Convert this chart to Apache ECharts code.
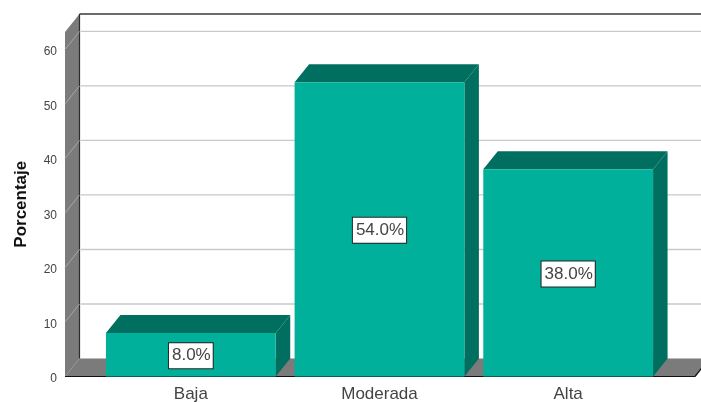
<!DOCTYPE html>
<html><head><meta charset="utf-8">
<style>html,body{margin:0;padding:0;background:#fff}#c{width:701px;height:402px}</style>
<script src="https://cdn.jsdelivr.net/npm/echarts@6/dist/echarts.min.js"></script>
</head><body><div id="c"></div>
<script>
const categories = ['Baja', 'Moderada', 'Alta'];
const values = [8.0, 54.0, 38.0];
const yTicks = [10, 20, 30, 40, 50, 60];
const yMax = 63.2;
const axisTitle = 'Porcentaje';

const DX = 14.5, DY = 18;
const LEFT_PAD = 31.5, RIGHT_PAD = 32.5;
const FRONT = '#00b09b', SHADE = '#006f5f', WALL = '#7b7b7b', DARK = '#2b2b2b';
const FONT = '"Liberation Sans", Arial, sans-serif';

const chart = echarts.init(document.getElementById('c'), null, {renderer: 'canvas'});

function renderWalls(params, api) {
  const cs = params.coordSys;
  const x0 = cs.x - LEFT_PAD, x1 = cs.x + cs.width + RIGHT_PAD;
  const y0 = api.coord([0, 0])[1], yT = api.coord([0, yMax])[1];
  return {type: 'group', children: [
    {type: 'polygon', shape: {points: [[x0, yT], [x0 + DX, yT - DY], [x0 + DX, y0 - DY], [x0, y0]]}, style: {fill: WALL}},
    {type: 'polygon', shape: {points: [[x0 + DX, y0 - DY], [x1 + DX, y0 - DY], [x1, y0], [x0, y0]]}, style: {fill: WALL}},
    {type: 'line', shape: {x1: x0 + DX, y1: yT - DY, x2: x1 + DX, y2: yT - DY}, style: {stroke: '#3a3a3a', lineWidth: 1.5}},
    {type: 'line', shape: {x1: x0 + DX, y1: yT - DY, x2: x0 + DX, y2: y0 - DY}, style: {stroke: DARK, lineWidth: 1.2}},
    {type: 'line', shape: {x1: x0, y1: y0, x2: x1, y2: y0}, style: {stroke: '#111', lineWidth: 1.2}},
    {type: 'line', shape: {x1: x1, y1: y0, x2: x1 + DX, y2: y0 - DY}, style: {stroke: '#111', lineWidth: 1.2}}
  ]};
}

function renderGrid(params, api) {
  const cs = params.coordSys;
  const x0 = cs.x - LEFT_PAD, x1 = cs.x + cs.width + RIGHT_PAD;
  const y = api.coord([0, api.value(1)])[1];
  return {type: 'group', children: [
    {type: 'line', shape: {x1: x0, y1: y, x2: x0 + DX, y2: y - DY}, style: {stroke: '#a8a8a8', lineWidth: 1}},
    {type: 'line', shape: {x1: x0 + DX + 1, y1: y - DY, x2: x1 + DX, y2: y - DY}, style: {stroke: '#c9c9c9', lineWidth: 1.3}}
  ]};
}

function renderBar(params, api) {
  const c = api.value(0), v = api.value(1);
  const top = api.coord([c, v]), bot = api.coord([c, 0]);
  const w = api.size([1, 0])[0] * 0.9;
  const l = top[0] - w / 2, r = top[0] + w / 2;
  return {type: 'group', children: [
    {type: 'polygon', shape: {points: [[l, top[1]], [l + DX, top[1] - DY], [r + DX, top[1] - DY], [r, top[1]]]}, style: {fill: SHADE}},
    {type: 'polygon', shape: {points: [[r, top[1]], [r + DX, top[1] - DY], [r + DX, bot[1] - DY], [r, bot[1]]]}, style: {fill: SHADE}},
    {type: 'rect', shape: {x: l, y: top[1], width: w, height: bot[1] - top[1]}, style: {fill: FRONT}},
    {type: 'text', x: top[0], y: (top[1] + bot[1]) / 2 + 1, style: {
      text: v.toFixed(1) + '%', font: '17px ' + FONT, fill: '#444', align: 'center', verticalAlign: 'middle',
      backgroundColor: '#fff', borderColor: '#222', borderWidth: 1, padding: [4, 2, 4, 3]
    }}
  ]};
}

chart.setOption({
  animation: false,
  grid: {left: 96.5, width: 566, top: 32, height: 344.5, outerBoundsMode: 'none'},
  xAxis: {type: 'category', data: categories, axisLine: {show: false}, axisTick: {show: false},
    axisLabel: {color: '#444', fontFamily: FONT, fontSize: 17, margin: 9}},
  yAxis: {type: 'value', min: 0, max: yMax, interval: 10, offset: LEFT_PAD,
    axisLine: {show: false}, axisTick: {show: false}, splitLine: {show: false},
    axisLabel: {color: '#444', fontFamily: FONT, fontSize: 12, margin: 8, showMaxLabel: false, verticalAlign: 'top', lineHeight: 5},
    name: axisTitle, nameLocation: 'middle', nameGap: 35,
    nameTextStyle: {color: '#111', fontFamily: FONT, fontSize: 17, fontWeight: 'bold'}},
  series: [
    {type: 'custom', renderItem: renderWalls, data: [[0, 0]], silent: true, z: 1},
    {type: 'custom', renderItem: renderGrid, data: yTicks.map(t => [0, t]), silent: true, z: 2},
    {type: 'custom', renderItem: renderBar, data: values.map((v, i) => [i, v]), silent: true, z: 3}
  ]
});
</script></body></html>
